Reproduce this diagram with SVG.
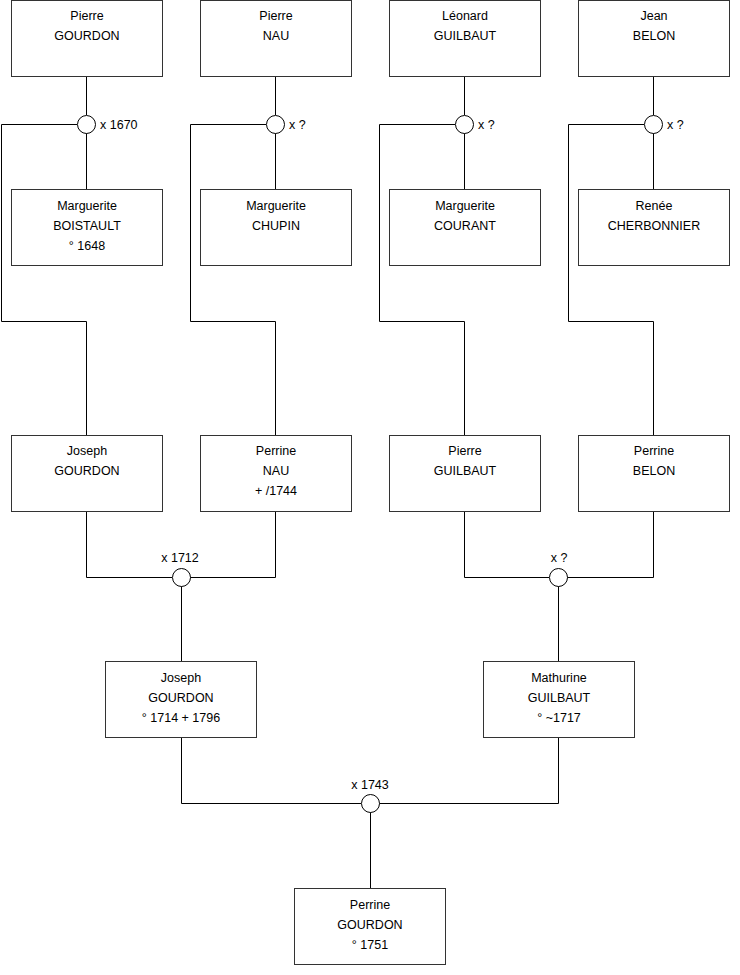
<svg xmlns="http://www.w3.org/2000/svg" width="740" height="975" viewBox="0 0 740 975">
<style>
.box{fill:#fff;stroke:#333;stroke-width:1}
.t{font-family:"Liberation Sans",Arial,sans-serif;font-size:12.5px;fill:#000;text-anchor:middle}
.l{font-family:"Liberation Sans",Arial,sans-serif;font-size:12.5px;fill:#000}
.c{fill:none;stroke:#000;stroke-width:1}
.m{fill:#fff;stroke:#000;stroke-width:1}
</style>
<rect width="740" height="975" fill="#fff"/>
<g id="connectors">
<path class="c" d="M86.5 76V115M77 124.5H1.5V321.5H86.5V435M86.5 133V189"/>
<path class="c" d="M275.5 76V115M266 124.5H190.5V321.5H275.5V435M275.5 133V189"/>
<path class="c" d="M464.5 76V115M455 124.5H379.5V321.5H464.5V435M464.5 133V189"/>
<path class="c" d="M653.5 76V115M644 124.5H568.5V321.5H653.5V435M653.5 133V189"/>
<path class="c" d="M86.5 511V577.5H172M190 577.5H275.5V511M181.5 586V661"/>
<path class="c" d="M464.5 511V577.5H549M567 577.5H653.5V511M558.5 586V661"/>
<path class="c" d="M181.5 737V803.5H361M379 803.5H558.5V737M370.5 812V888"/>
</g>
<g id="m1"><circle class="m" cx="86.5" cy="124.5" r="9"/><text class="l" x="100" y="129">x 1670</text></g>
<g id="m2"><circle class="m" cx="275.5" cy="124.5" r="9"/><text class="l" x="289" y="129">x ?</text></g>
<g id="m3"><circle class="m" cx="464.5" cy="124.5" r="9"/><text class="l" x="478" y="129">x ?</text></g>
<g id="m4"><circle class="m" cx="653.5" cy="124.5" r="9"/><text class="l" x="667" y="129">x ?</text></g>
<g id="m5"><circle class="m" cx="181.5" cy="577.5" r="9"/><text class="t" x="180" y="562">x 1712</text></g>
<g id="m6"><circle class="m" cx="558.5" cy="577.5" r="9"/><text class="t" x="559" y="562">x ?</text></g>
<g id="m7"><circle class="m" cx="370.5" cy="803.5" r="9"/><text class="t" x="370" y="789">x 1743</text></g>
<g id="n1"><rect class="box" x="11.5" y="0.5" width="151" height="76"/><text class="t" x="87" y="20">Pierre</text><text class="t" x="87" y="40">GOURDON</text></g>
<g id="n2"><rect class="box" x="200.5" y="0.5" width="151" height="76"/><text class="t" x="276" y="20">Pierre</text><text class="t" x="276" y="40">NAU</text></g>
<g id="n3"><rect class="box" x="389.5" y="0.5" width="151" height="76"/><text class="t" x="465" y="20">Léonard</text><text class="t" x="465" y="40">GUILBAUT</text></g>
<g id="n4"><rect class="box" x="578.5" y="0.5" width="151" height="76"/><text class="t" x="654" y="20">Jean</text><text class="t" x="654" y="40">BELON</text></g>
<g id="n5"><rect class="box" x="11.5" y="189.5" width="151" height="76"/><text class="t" x="87" y="210">Marguerite</text><text class="t" x="87" y="230">BOISTAULT</text><text class="t" x="87" y="250">° 1648</text></g>
<g id="n6"><rect class="box" x="200.5" y="189.5" width="151" height="76"/><text class="t" x="276" y="210">Marguerite</text><text class="t" x="276" y="230">CHUPIN</text></g>
<g id="n7"><rect class="box" x="389.5" y="189.5" width="151" height="76"/><text class="t" x="465" y="210">Marguerite</text><text class="t" x="465" y="230">COURANT</text></g>
<g id="n8"><rect class="box" x="578.5" y="189.5" width="151" height="76"/><text class="t" x="654" y="210">Renée</text><text class="t" x="654" y="230">CHERBONNIER</text></g>
<g id="n9"><rect class="box" x="11.5" y="435.5" width="151" height="76"/><text class="t" x="87" y="455">Joseph</text><text class="t" x="87" y="475">GOURDON</text></g>
<g id="n10"><rect class="box" x="200.5" y="435.5" width="151" height="76"/><text class="t" x="276" y="455">Perrine</text><text class="t" x="276" y="475">NAU</text><text class="t" x="276" y="495">+ /1744</text></g>
<g id="n11"><rect class="box" x="389.5" y="435.5" width="151" height="76"/><text class="t" x="465" y="455">Pierre</text><text class="t" x="465" y="475">GUILBAUT</text></g>
<g id="n12"><rect class="box" x="578.5" y="435.5" width="151" height="76"/><text class="t" x="654" y="455">Perrine</text><text class="t" x="654" y="475">BELON</text></g>
<g id="n13"><rect class="box" x="105.5" y="661.5" width="151" height="76"/><text class="t" x="181" y="682">Joseph</text><text class="t" x="181" y="702">GOURDON</text><text class="t" x="181" y="722">° 1714 + 1796</text></g>
<g id="n14"><rect class="box" x="483.5" y="661.5" width="151" height="76"/><text class="t" x="559" y="682">Mathurine</text><text class="t" x="559" y="702">GUILBAUT</text><text class="t" x="559" y="722">° ~1717</text></g>
<g id="n15"><rect class="box" x="294.5" y="888.5" width="151" height="76"/><text class="t" x="370" y="909">Perrine</text><text class="t" x="370" y="929">GOURDON</text><text class="t" x="370" y="949">° 1751</text></g>
</svg>
